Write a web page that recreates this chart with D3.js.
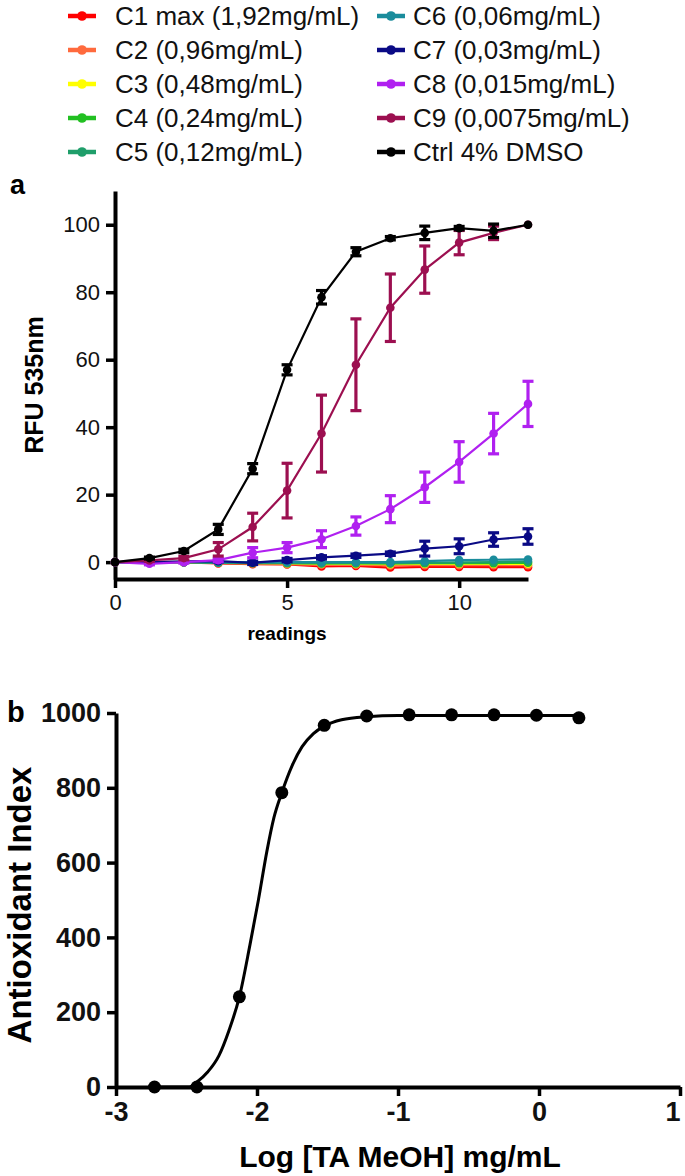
<!DOCTYPE html>
<html><head><meta charset="utf-8">
<script src="https://cdn.jsdelivr.net/npm/d3@7"></script>
<style>
body{margin:0;background:#fff;}
svg{display:block;font-family:Arial,"Liberation Sans",sans-serif;}
</style></head>
<body>
<svg id="c" width="685" height="1176"></svg>
<script>
// ---------- Panel a data ----------
const readings = [0,1,2,3,4,5,6,7,8,9,10,11,12];
const seriesNames = ["C1 max (1,92mg/mL)","C2 (0,96mg/mL)","C3 (0,48mg/mL)","C4 (0,24mg/mL)","C5 (0,12mg/mL)",
  "C6 (0,06mg/mL)","C7 (0,03mg/mL)","C8 (0,015mg/mL)","C9 (0,0075mg/mL)","Ctrl 4% DMSO"];
const seriesColors = ["#ff0000","#ff6a3d","#ffff00","#22c022","#1f9e6a","#1a8c9c","#0a0a85","#b020f0","#9c0f50","#000000"];
const c1 = [0,0,-0.1,-0.4,-0.6,-0.7,-1.3,-1.1,-1.6,-1.4,-1.4,-1.5,-1.5];
const c2 = [0,0,0,-0.3,-0.5,-0.6,-0.8,-0.8,-1.0,-0.9,-0.9,-0.9,-0.9];
const c3 = [0,0,0.1,0,-0.2,-0.3,-0.5,-0.5,-0.6,-0.5,-0.5,-0.5,-0.5];
const c4 = [0,0,0,-0.2,-0.3,-0.3,-0.4,-0.4,-0.4,-0.3,-0.3,-0.3,-0.2];
const c5 = [0,0,0,-0.2,-0.2,-0.2,-0.3,-0.2,-0.3,-0.2,-0.1,0,0.2];
const c6 = [0,0,0,0,0,0,0,0,0,0.3,0.6,0.7,0.8];
const c7 = [0,0,0.2,0.3,-0.2,0.6,1.4,1.9,2.5,4.0,4.7,6.7,7.6];
const c8 = [0,-0.5,0,0.6,2.8,4.3,6.8,10.7,15.7,22.2,29.7,38.1,46.9];
const c9 = [0,0.5,1.2,3.8,10.4,21.2,38.1,58.5,75.4,86.7,94.7,97.6,100];
const ctrl = [0,1.2,3.3,9.7,27.7,57,78.5,92,96,97.6,99,98.2,100];
const c7err = [0,0,0,0.3,0.5,0.5,0.5,0.5,0.5,2.2,2.2,2.0,2.3];
const c8err = [0,0.3,0.3,0.5,1.5,1.5,2.5,2.7,4.0,4.5,6.0,6.0,6.7];
const c9err = [0,0.3,0.5,2.0,4.1,8.1,11.4,13.6,10.0,7.0,3.6,2.0,0];
const ctrlErr = [0,0.3,0.5,1.5,1.5,1.5,2.0,1.2,0.5,2.0,0.5,2.0,0];
const zeroErr = [0,0,0,0,0,0,0,0,0,0,0,0,0];
const seriesValues = [c1,c2,c3,c4,c5,c6,c7,c8,c9,ctrl];
const seriesErrors = [zeroErr,zeroErr,zeroErr,zeroErr,zeroErr,zeroErr,c7err,c8err,c9err,ctrlErr];
const aXTicks = [0,5,10];
const aYTicks = [0,20,40,60,80,100];

// ---------- Panel b data ----------
const logConc = [0.283,-0.018,-0.319,-0.620,-0.921,-1.222,-1.523,-1.824,-2.125,-2.426,-2.727];
const antioxIndex = [987,994,995,995,995,992,967,787,241,0,0];
const fitX = [-2.727,-2.48,-2.43,-2.35,-2.27,-2.20,-2.125,-2.05,-1.99,-1.93,-1.88,-1.824,-1.75,-1.68,-1.60,-1.523,-1.40,-1.222,-1.0,-0.5,0,0.283];
const fitY = [0,0,12,40,84,150,241,380,500,630,720,787,860,910,945,965,982,990,993,993,993,993];
const bXTicks = [-3,-2,-1,0,1];
const bYTicks = [0,200,400,600,800,1000];

const svg = d3.select("#c");

// ---------- Legend ----------
const leg = svg.append("g");
seriesNames.forEach((n,i)=>{
  const col = Math.floor(i/5), row = i%5;
  const x0 = col===0 ? 68 : 377, y0 = 16 + row*34;
  const g = leg.append("g").attr("transform",`translate(${x0},${y0})`);
  g.append("line").attr("x1",0).attr("x2",28).attr("y1",0).attr("y2",0)
    .attr("stroke",seriesColors[i]).attr("stroke-width",4.5);
  g.append("circle").attr("cx",14).attr("cy",0).attr("r",4.8).attr("fill",seriesColors[i]);
  g.append("text").attr("x",col===0?47:36).attr("y",0).attr("dy","0.36em")
    .attr("font-size",26).attr("fill","#111").text(n);
});

// ---------- Panel a ----------
const xa = d3.scaleLinear().domain([0,12]).range([115,528]);
const ya = d3.scaleLinear().domain([-5,110]).range([579,191]);

function styleAxis(g, fs, bold){
  g.select(".domain").attr("stroke-width",4).attr("stroke","#000");
  g.selectAll(".tick line").attr("stroke-width",3.5).attr("stroke","#000");
  g.selectAll("text").attr("font-size",fs).attr("font-weight",bold?"bold":"normal")
    .attr("fill","#111").attr("font-family","Arial, Liberation Sans");
}
const axA = svg.append("g");
axA.append("g").attr("transform",`translate(0,${ya(-5)})`)
  .call(d3.axisBottom(xa).tickValues(aXTicks).tickSize(9).tickSizeOuter(0).tickPadding(6))
  .call(g=>styleAxis(g,22,false));
axA.append("g").attr("transform",`translate(${xa(0)},0)`)
  .call(d3.axisLeft(ya).tickValues(aYTicks).tickSize(9).tickSizeOuter(0).tickPadding(6))
  .call(g=>styleAxis(g,22,false));

svg.append("text").attr("x",287).attr("y",640).attr("text-anchor","middle")
  .attr("font-size",19).attr("font-weight","bold").text("readings");
svg.append("text").attr("transform","translate(43,385) rotate(-90)").attr("text-anchor","middle")
  .attr("font-size",25).attr("font-weight","bold").text("RFU 535nm");
svg.append("text").attr("x",10).attr("y",194).attr("font-size",27).attr("font-weight","bold").text("a");

const plotA = svg.append("g");
const lineA = d3.line().x((d,i)=>xa(readings[i])).y(d=>ya(d));
seriesValues.forEach((vals,si)=>{
  const col = seriesColors[si];
  const g = plotA.append("g");
  g.append("path").datum(vals).attr("d",lineA).attr("fill","none").attr("stroke",col).attr("stroke-width",2.2);
  const errs = seriesErrors[si];
  vals.forEach((v,i)=>{
    const e = errs[i];
    if(e>0){
      const x = xa(readings[i]);
      g.append("line").attr("x1",x).attr("x2",x).attr("y1",ya(v-e)).attr("y2",ya(v+e)).attr("stroke",col).attr("stroke-width",3.2);
      [v-e,v+e].forEach(t=>g.append("line").attr("x1",x-5.5).attr("x2",x+5.5).attr("y1",ya(t)).attr("y2",ya(t)).attr("stroke",col).attr("stroke-width",3.2));
    }
  });
  g.selectAll("circle").data(vals).join("circle")
    .attr("cx",(d,i)=>xa(readings[i])).attr("cy",d=>ya(d)).attr("r",4.3).attr("fill",col);
});

// ---------- Panel b ----------
const xb = d3.scaleLinear().domain([-3,1]).range([116,680]);
const yb = d3.scaleLinear().domain([0,1000]).range([1087,713]);
const axB = svg.append("g");
axB.append("g").attr("transform",`translate(0,${yb(0)})`)
  .call(d3.axisBottom(xb).tickValues(bXTicks).tickFormat(d=>String(d)).tickSize(9).tickSizeOuter(0).tickPadding(6))
  .call(g=>styleAxis(g,27,true));
axB.append("g").attr("transform",`translate(${xb(-3)},0)`)
  .call(d3.axisLeft(yb).tickValues(bYTicks).tickFormat(d=>String(d)).tickSize(9).tickSizeOuter(0).tickPadding(6))
  .call(g=>styleAxis(g,27,true));
// keep the right-most tick label inside the page
axB.selectAll("text").filter(d=>d===1).attr("text-anchor","end").attr("dx","0");

svg.append("text").attr("x",400).attr("y",1167).attr("text-anchor","middle")
  .attr("font-size",30).attr("font-weight","bold").text("Log [TA MeOH] mg/mL");
svg.append("text").attr("transform","translate(31,905) rotate(-90)").attr("text-anchor","middle")
  .attr("font-size",33).attr("font-weight","bold").text("Antioxidant Index");
svg.append("text").attr("x",7).attr("y",722).attr("font-size",29).attr("font-weight","bold").text("b");

const fit = fitX.map((x,i)=>[x,fitY[i]]);
svg.append("path").datum(fit)
  .attr("d",d3.line().x(d=>xb(d[0])).y(d=>yb(d[1])).curve(d3.curveMonotoneX))
  .attr("fill","none").attr("stroke","#000").attr("stroke-width",3);
svg.append("g").selectAll("circle").data(logConc).join("circle")
  .attr("cx",d=>xb(d)).attr("cy",(d,i)=>yb(antioxIndex[i])).attr("r",6.5).attr("fill","#000");
</script>
</body></html>
